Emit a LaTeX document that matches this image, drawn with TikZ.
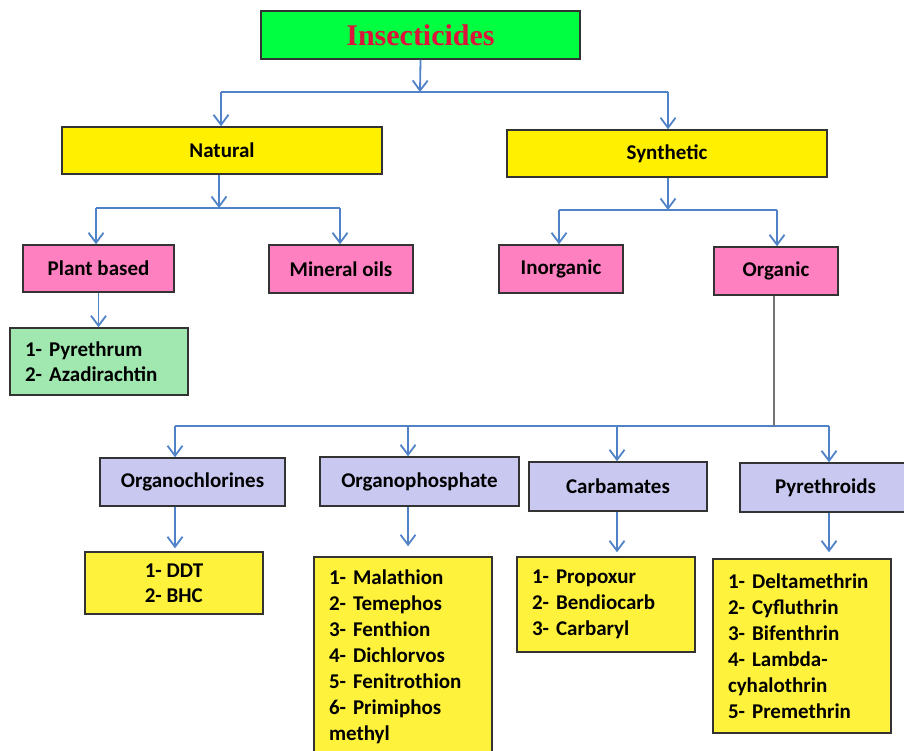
\documentclass[tikz,border=0pt]{standalone}
\usepackage{fontspec}
\setmainfont{Carlito}
\newfontfamily\titlefont{Liberation Serif}
\usetikzlibrary{arrows.meta}
\definecolor{tgreen}{RGB}{0,255,64}
\definecolor{tred}{RGB}{220,20,60}
\definecolor{tyellow}{RGB}{255,240,0}
\definecolor{lyellow}{RGB}{255,242,60}
\definecolor{tpink}{RGB}{255,128,192}
\definecolor{lgreen}{RGB}{160,232,176}
\definecolor{lav}{RGB}{200,200,240}
\definecolor{ablue}{RGB}{80,130,200}
\begin{document}
\begin{tikzpicture}[x=1pt,y=-1pt,
  box/.style={draw=black!80, line width=1.5pt, inner sep=0pt, font=\bfseries\fontsize{21}{25}\selectfont, text=black},
  listbox/.style={box, inner xsep=15pt, align=left, font=\bfseries\fontsize{21}{26}\selectfont},
  arr/.style={draw=ablue, line width=1.8pt, -{Straight Barb[length=10pt,width=15pt]}},
  hline/.style={draw=ablue, line width=1.5pt},
  gline/.style={draw=black!55, line width=1.3pt}]
\useasboundingbox (0,0) rectangle (904,751);
\fill[white] (0,0) rectangle (904,751);

% nodes
\node[box, fill=tgreen, minimum width=319pt, minimum height=48pt, text=tred,
      font=\titlefont\bfseries\fontsize{30}{30}\selectfont] (title) at (420.5,35) {Insecticides};
\node[box, fill=tyellow, minimum width=320pt, minimum height=47pt] (natural) at (222,150.5) {Natural};
\node[box, fill=tyellow, minimum width=320pt, minimum height=47pt] (synthetic) at (667,153.5) {Synthetic};
\node[box, fill=tpink, minimum width=151pt, minimum height=47pt] (plant) at (98.5,268.5) {Plant based};
\node[box, fill=tpink, minimum width=144pt, minimum height=48pt] (mineral) at (341,269) {Mineral oils};
\node[box, fill=tpink, minimum width=124pt, minimum height=48pt] (inorganic) at (561,269) {Inorganic};
\node[box, fill=tpink, minimum width=124pt, minimum height=48pt] (organic) at (776,271) {Organic};
\node[listbox, fill=lgreen, text width=148pt, minimum height=67pt, font=\bfseries\fontsize{21}{25}\selectfont] (plist) at (99,361.5) {1- Pyrethrum\\2- Azadirachtin};

\node[box, fill=lav, minimum width=185pt, minimum height=48pt] (orgcl) at (192.5,482) {Organochlorines};
\node[box, fill=lav, minimum width=199pt, minimum height=49pt] (orgph) at (419.5,481.5) {Organophosphate};
\node[box, fill=lav, minimum width=178pt, minimum height=49pt] (carb) at (618,486.5) {Carbamates};
\node[box, fill=lav, minimum width=171pt, minimum height=49pt] (pyrd) at (825.5,487.5) {Pyrethroids};

\node[box, fill=lyellow, minimum width=178pt, minimum height=62pt, align=left] (ddt) at (174,583) {1- DDT\\2- BHC};
\node[listbox, fill=lyellow, text width=148pt, minimum height=200pt] (oplist) at (403,657)
  {1- Malathion\\2- Temephos\\3- Fenthion\\4- Dichlorvos\\5- Fenitrothion\\6- Primiphos\\methyl};
\node[listbox, fill=lyellow, text width=148pt, minimum height=95pt] (cblist) at (606,604.5)
  {1- Propoxur\\2- Bendiocarb\\3- Carbaryl};
\node[listbox, fill=lyellow, text width=148pt, minimum height=174pt] (pylist) at (802,646)
  {1- Deltamethrin\\2- Cyfluthrin\\3- Bifenthrin\\4- Lambda-\\cyhalothrin\\5- Premethrin};

% junction coordinates
\coordinate (a0) at (420,92);
\coordinate (a1) at (221,92);
\coordinate (a2) at (668,92);
\coordinate (b0) at (219,208);
\coordinate (b1) at (96,208);
\coordinate (b2) at (340,208);
\coordinate (c0) at (668,210);
\coordinate (c1) at (559,210);
\coordinate (c2) at (777,210);
\coordinate (d0) at (774,426);
\coordinate (d1) at (175,426);
\coordinate (d2) at (408,426);
\coordinate (d3) at (617,426);
\coordinate (d4) at (829,426);

% connectors
\draw[hline] (a1) -- (a2);
\draw[arr] (title.south) -- (a0);
\draw[arr] (a1) -- (a1 |- natural.north);
\draw[arr] (a2) -- (a2 |- synthetic.north);

\draw[hline] (b1) -- (b2);
\draw[arr] (natural.south -| b0) -- (b0);
\draw[arr] (b1) -- (b1 |- plant.north);
\draw[arr] (b2) -- (b2 |- mineral.north);
\draw[arr] (plant.south) -- (plant.south |- plist.north);

\draw[hline] (c1) -- (c2);
\draw[arr] (synthetic.south -| c0) -- (c0);
\draw[arr] (c1) -- (c1 |- inorganic.north);
\draw[arr] (c2) -- (c2 |- organic.north);

\draw[hline] (d1) -- (d4);
\draw[gline] (organic.south -| d0) -- (d0);
\draw[arr] (d1) -- (d1 |- orgcl.north);
\draw[arr] (d2) -- (d2 |- orgph.north);
\draw[arr] (d3) -- (d3 |- carb.north);
\draw[arr] (d4) -- (d4 |- pyrd.north);

\draw[arr, shorten >=3pt] (orgcl.south -| d1) -- (ddt.north -| d1);
\draw[arr, shorten >=10pt] (orgph.south -| d2) -- (oplist.north -| d2);
\draw[arr, shorten >=4pt] (carb.south -| d3) -- (cblist.north -| d3);
\draw[arr, shorten >=6pt] (pyrd.south -| d4) -- (pylist.north -| d4);
\end{tikzpicture}
\end{document}
